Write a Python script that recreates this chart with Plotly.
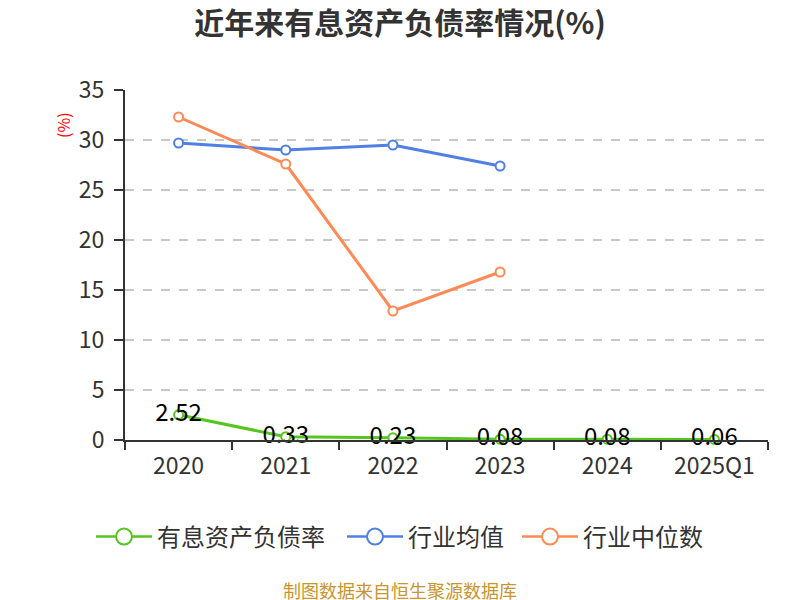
import plotly.graph_objects as go

categories = ["2020", "2021", "2022", "2023", "2024", "2025Q1"]
debt_ratio = [2.52, 0.33, 0.23, 0.08, 0.08, 0.06]
industry_avg = [29.7, 29.0, 29.5, 27.4, None, None]
industry_median = [32.3, 27.6, 12.9, 16.8, None, None]
series_names = ["有息资产负债率", "行业均值", "行业中位数"]
y_ticks = [0, 5, 10, 15, 20, 25, 30, 35]

FONT = "Noto Sans CJK SC"
GREEN = "#56C51F"
BLUE = "#4F80E2"
ORANGE = "#FF8A55"
COLORS = [GREEN, BLUE, ORANGE]

# page body has an 8px offset; layout numbers below are figure coordinates
L, R, T, B = 117, 40, 82, 168
PW = 800 - L - R
PH = 600 - T - B


def px_x(page_x):
    return (page_x - 8 - L) / PW


def px_y(page_y):
    return (600 - B - (page_y - 8)) / PH


fig = go.Figure()
fig.add_trace(go.Scatter(
    x=categories, y=debt_ratio, name=series_names[0], mode="lines+markers+text",
    line=dict(color=GREEN, width=3), showlegend=False,
    marker=dict(symbol="circle", size=9, color="white", line=dict(color=GREEN, width=2)),
    text=[f"{v:.2f}" for v in debt_ratio], textposition="middle center",
    textfont=dict(family=FONT, size=24, color="#000000"), cliponaxis=False,
))
fig.add_trace(go.Scatter(
    x=categories, y=industry_avg, name=series_names[1], mode="lines+markers",
    line=dict(color=BLUE, width=3), showlegend=False,
    marker=dict(symbol="circle", size=9, color="white", line=dict(color=BLUE, width=2)),
    cliponaxis=False,
))
fig.add_trace(go.Scatter(
    x=categories, y=industry_median, name=series_names[2], mode="lines+markers",
    line=dict(color=ORANGE, width=3), showlegend=False,
    marker=dict(symbol="circle", size=9, color="white", line=dict(color=ORANGE, width=2)),
    cliponaxis=False,
))

# legend entries (one legend box per series so spacing can match)
legend_keys = ["legend", "legend2", "legend3"]
legend_page_x = [91, 342, 517]
for name, color, key in zip(series_names, COLORS, legend_keys):
    fig.add_trace(go.Scatter(
        x=[None], y=[None], name=name, mode="lines+markers", legend=key,
        line=dict(color=color, width=2.5),
        marker=dict(symbol="circle", size=16, color="white", line=dict(color=color, width=2)),
    ))

legend_common = dict(orientation="h", yanchor="middle", y=px_y(537), xanchor="left",
                     font=dict(family=FONT, size=24, color="#333333"), itemwidth=56,
                     bgcolor="rgba(0,0,0,0)")

fig.update_layout(
    width=800, height=600,
    paper_bgcolor="white", plot_bgcolor="white",
    margin=dict(l=L, r=R, t=T, b=B, autoexpand=False),
    font=dict(family=FONT, color="#333333"),
    title=dict(text="<b>近年来有息资产负债率情况(%)</b>", x=(400 - 8) / 800, xanchor="center",
               y=1 - (23 - 8) / 600, yanchor="middle", yref="container",
               font=dict(family=FONT, size=30, color="#333333")),
    showlegend=True,
    legend=dict(legend_common, x=px_x(legend_page_x[0])),
    legend2=dict(legend_common, x=px_x(legend_page_x[1])),
    legend3=dict(legend_common, x=px_x(legend_page_x[2])),
    xaxis=dict(
        type="category", range=[-0.5, 5.5], showline=True, linecolor="#333333", linewidth=2,
        ticks="outside", tickson="boundaries", ticklen=8, tickcolor="#333333", tickwidth=1.5,
        showgrid=False, tickangle=0, ticklabelstandoff=4,
        tickfont=dict(family=FONT, size=23, color="#333333"),
    ),
    yaxis=dict(
        range=[0, 35], tickvals=y_ticks, showline=True, linecolor="#333333", linewidth=2,
        ticks="outside", ticklen=9, tickcolor="#333333", tickwidth=1.5,
        showgrid=True, gridcolor="#C8C8C8", griddash="dash", gridwidth=1.5,
        zeroline=False, ticklabelstandoff=5,
        tickfont=dict(family=FONT, size=23, color="#333333"),
    ),
    annotations=[
        dict(text="(%)", xref="paper", yref="paper", x=px_x(63), y=px_y(125), showarrow=False,
             xanchor="center", yanchor="middle",
             textangle=-90, font=dict(family=FONT, size=16, color="#FF0000")),
        dict(text="制图数据来自恒生聚源数据库", xref="paper", yref="paper",
             x=px_x(400), y=px_y(590), showarrow=False,
             xanchor="center", yanchor="middle",
             font=dict(family=FONT, size=18, color="#C8952E")),
    ],
)

fig.write_html("out.html")
